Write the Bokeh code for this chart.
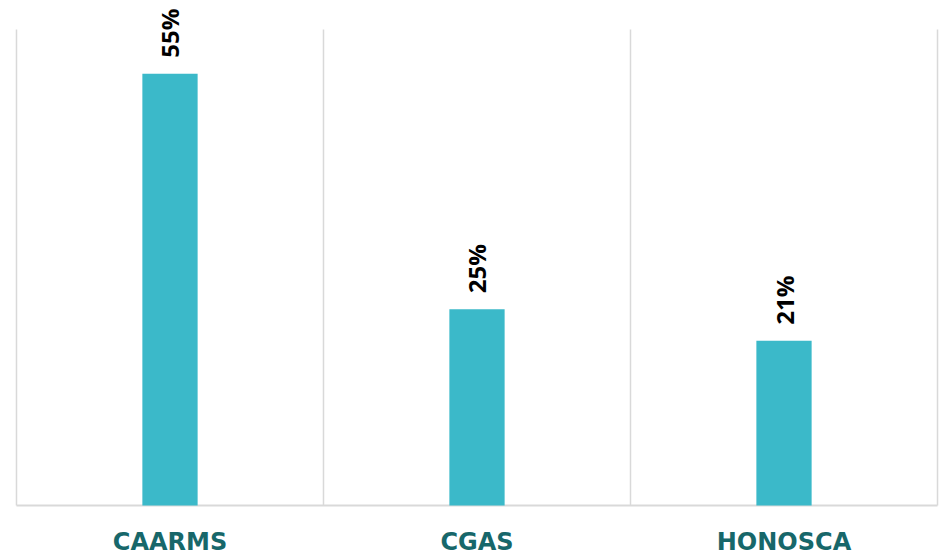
import math
from bokeh.plotting import figure
from bokeh.models import ColumnDataSource, Range1d
from bokeh.core.properties import value
from bokeh.embed import file_html
from bokeh.resources import INLINE

categories = ["CAARMS", "CGAS", "HONOSCA"]
values = [55, 25, 21]
value_labels = ["55%", "25%", "21%"]
Y_TOP = 60.65  # top of the plotting area (value axis maximum)

n = len(categories)
xs = [i + 0.5 for i in range(n)]
zeros = [0 for _ in categories]
src = ColumnDataSource(dict(x=xs, top=values, lab=value_labels, cat=categories, base=zeros))

bounds = list(range(n + 1))
grid_src = ColumnDataSource(dict(x=bounds, y0=[0] * len(bounds), y1=[Y_TOP] * len(bounds)))

p = figure(width=939, height=555, output_backend="svg", toolbar_location=None,
           x_range=Range1d(-0.0521, 3.0065), y_range=Range1d(-6.37, 64.33),
           min_border_left=0, min_border_right=0, min_border_top=0, min_border_bottom=0)
p.outline_line_color = None
p.background_fill_color = "white"
p.border_fill_color = "white"
p.xaxis.visible = False
p.yaxis.visible = False
p.grid.visible = False

# vertical category separators (Excel-style gridlines)
p.segment(x0="x", y0="y0", x1="x", y1="y1", source=grid_src,
          line_color="#D9D9D9", line_width=1.5)
# baseline
p.segment(x0=[0], y0=[0], x1=[n], y1=[0], line_color="#D9D9D9", line_width=2)

p.vbar(x="x", top="top", width=0.18, bottom=0, source=src,
       fill_color="#3BB9C9", line_color=None)

p.text(x="x", y="top", text="lab", source=src, angle=math.pi / 2,
       text_align="left", text_baseline="middle", y_offset=-16,
       text_font=value("Open Sans"), text_font_style="bold",
       text_font_size="24px", text_color="#000000")

p.text(x="x", y="base", text="cat", source=src,
       text_align="center", text_baseline="top", y_offset=23,
       text_font=value("DejaVu Sans"), text_font_style="bold",
       text_font_size="24px", text_color="#17676A")

open("out.html", "w").write(file_html(p, INLINE))
